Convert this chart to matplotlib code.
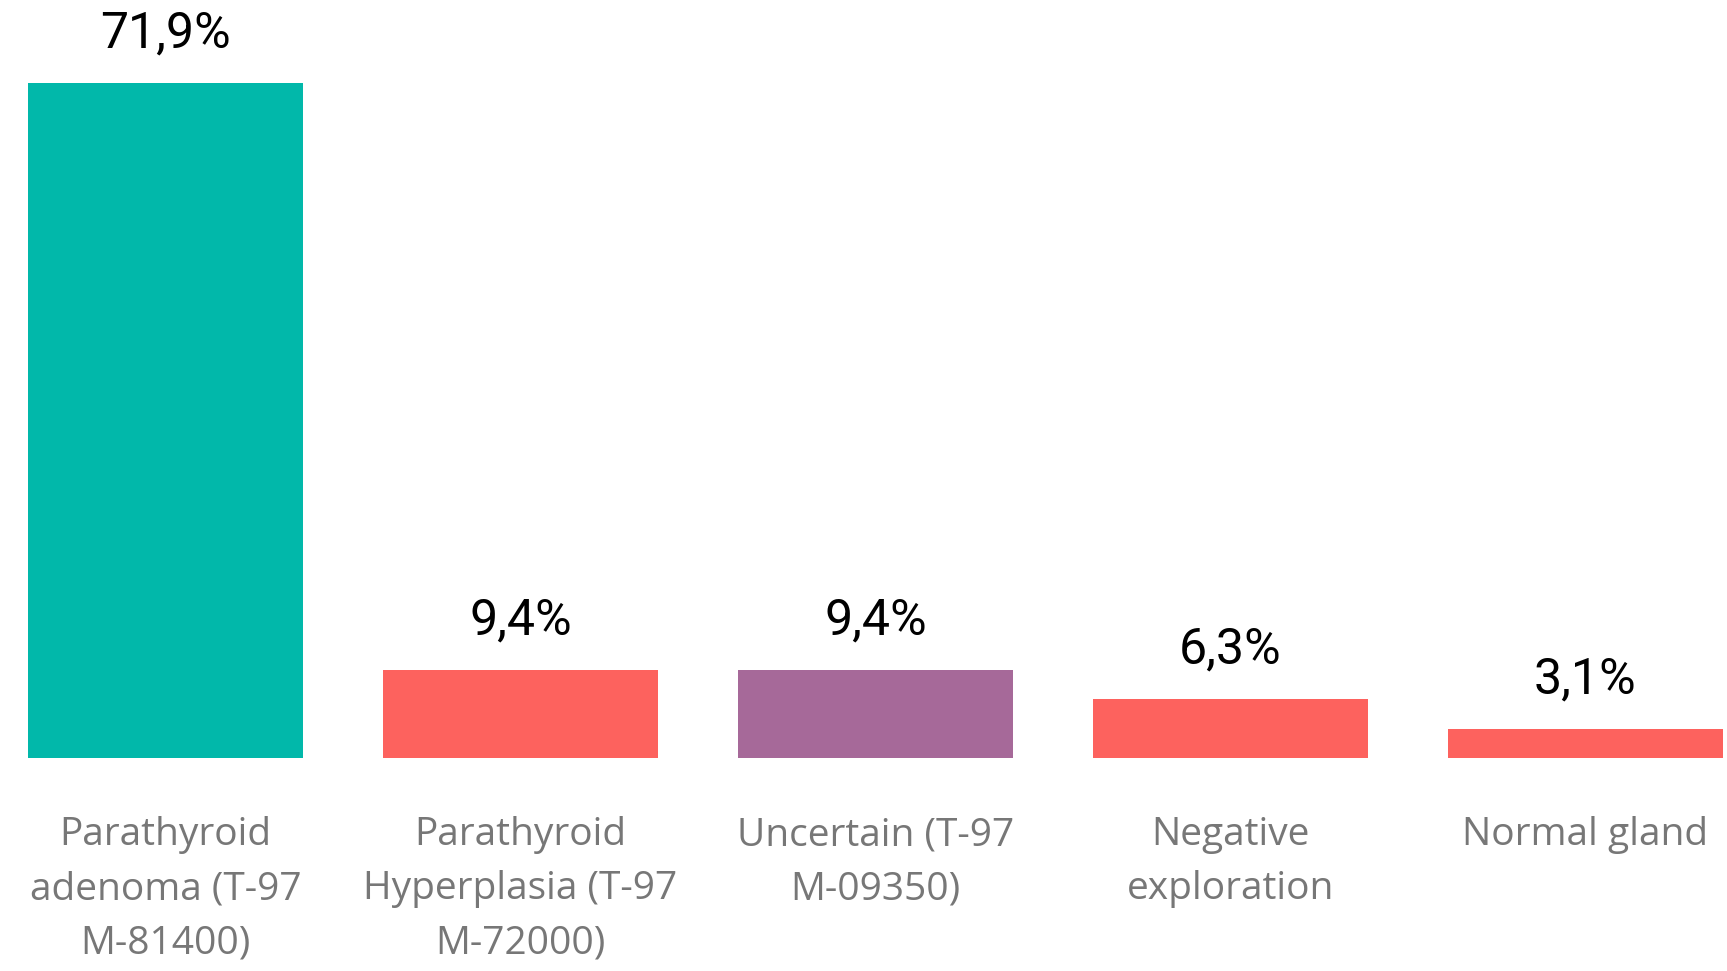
import matplotlib.pyplot as plt

categories = ["Parathyroid\nadenoma (T-97\nM-81400)",
              "Parathyroid\nHyperplasia (T-97\nM-72000)",
              "Uncertain (T-97\nM-09350)",
              "Negative\nexploration",
              "Normal gland"]
percent = [71.9, 9.4, 9.4, 6.3, 3.1]
colors = ["#01B8AA", "#FD625E", "#A66999", "#FD625E", "#FD625E"]

fig = plt.figure(figsize=(17.27, 9.71), dpi=100)
ax = fig.add_axes([0, 0.2196, 1, 0.7804])

x = range(len(percent))
bars = ax.bar(x, percent, width=0.775, color=colors)

# value labels above each bar, decimal comma
for b, v in zip(bars, percent):
    ax.annotate(f"{v:.1f}%".replace(".", ","),
                (b.get_x() + b.get_width() / 2, b.get_height()),
                xytext=(0, 18), textcoords="offset points",
                ha="center", va="bottom", fontsize=36,
                family="Roboto", color="black")

ax.set_xlim(-0.4657, 4.399)
ax.set_ylim(0, 80.7)
ax.set_xticks(list(x))
ax.set_xticklabels(categories, fontsize=28, family="Open Sans",
                   color="#777777", linespacing=1.55, va="top")
ax.tick_params(axis="x", length=0, pad=42)
ax.set_yticks([])
for s in ax.spines.values():
    s.set_visible(False)

fig.savefig("out.png", dpi=100)
